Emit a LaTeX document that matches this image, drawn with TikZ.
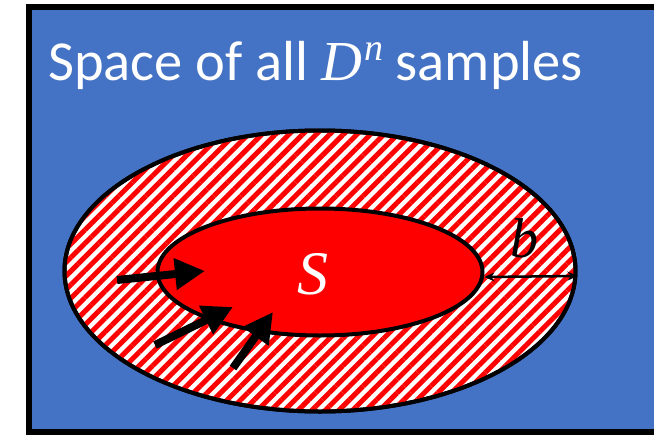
\documentclass[tikz,border=0pt]{standalone}
\usepackage{fontspec}
\setmainfont{Carlito}
\newfontfamily\mathserif{Liberation Serif}
\usetikzlibrary{arrows.meta,shapes.geometric,patterns.meta}
\definecolor{spaceblue}{HTML}{4472C4}
\newcommand{\mvar}[1]{{\mathserif\itshape #1}}

\begin{document}
\begin{tikzpicture}[x=1pt,y=-1pt,
 every node/.style={inner sep=0pt},
 region/.style={draw=black,line width=4pt,ellipse,inner sep=0pt},
 push/.style={-{Triangle[length=30pt,width=30pt]},line width=8pt}]
\useasboundingbox (0,0) rectangle (654,437);
\clip (0,0) rectangle (654,437);
\draw[fill=spaceblue,line width=6pt] (29,7) rectangle (700,432);
\node[anchor=base west,text=white,font=\fontsize{56.5}{56.5}\selectfont] (title) at (48,80)
 {Space of all \mvar{D}\kern2pt\raisebox{20pt}{\fontsize{38}{38}\selectfont\mvar{n}} samples};
% hatched margin round S
\node[region,fill=white,minimum width=511pt,minimum height=281pt] (outer) at (320,271) {};
\node[region,pattern={Lines[angle=45,distance=9.6pt,line width=5pt]},pattern color=red,minimum width=511pt,minimum height=281pt] at (320,271) {};
\node[region,fill=red,minimum width=325pt,minimum height=127pt] (inner) at (320,272) {};
\node[text=white,font=\fontsize{62}{62}\selectfont] (S) at (313,274) {\mvar{S}};
\draw[{Stealth[length=10pt,width=9pt]}-{Stealth[length=10pt,width=9pt]},line width=2.5pt] ([yshift=-5pt]inner.east) -- ([yshift=-5pt]outer.east);
\node[font=\fontsize{56}{56}\selectfont] (b) at (524,238) {\mvar{b}};
% samples pushed into S
\coordinate (t1) at (117,280); \coordinate (h1) at (205,271);
\coordinate (t2) at (155,345); \coordinate (h2) at (233,307);
\coordinate (t3) at (233,368); \coordinate (h3) at (273,312);
\draw[push] (t1) -- (h1);
\draw[push] (t2) -- (h2);
\draw[push] (t3) -- (h3);
\end{tikzpicture}
\end{document}
